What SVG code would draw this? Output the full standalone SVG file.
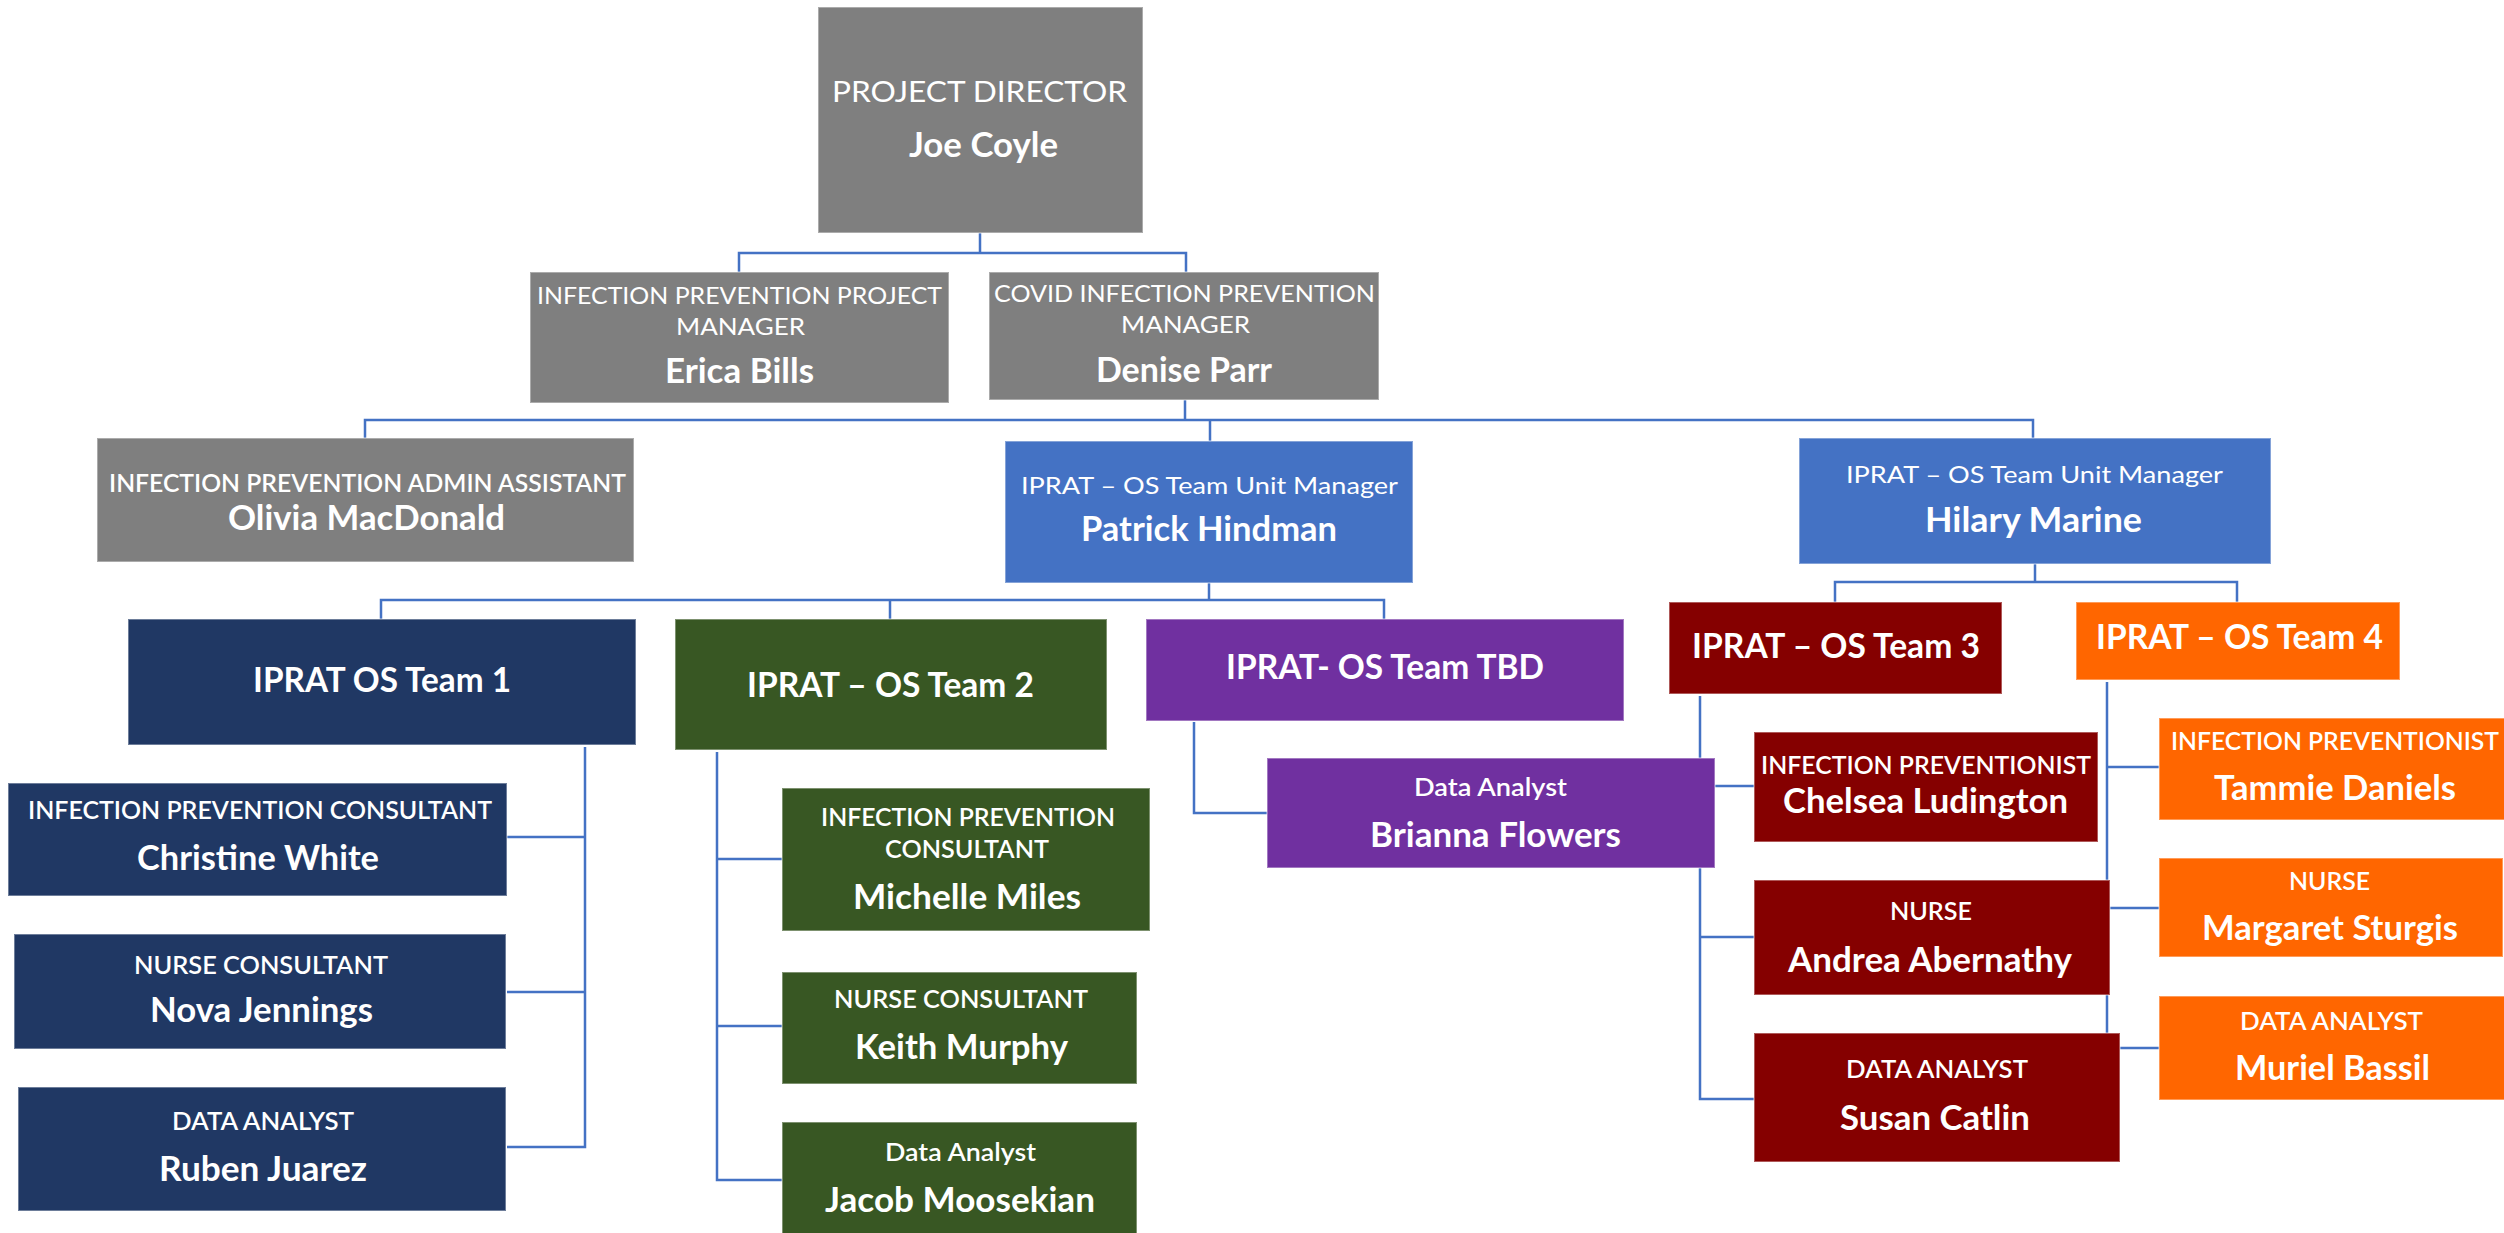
<svg xmlns="http://www.w3.org/2000/svg" width="2504" height="1233" viewBox="0 0 2504 1233">
<style>
.bx{stroke:#ffffff;stroke-opacity:0.35;stroke-width:2}
.gray{fill:#7F7F7F}.blue{fill:#4472C4}.navy{fill:#203864}.green{fill:#385723}.purple{fill:#7030A0}.red{fill:#850000}.orange{fill:#FF6600}
text{fill:#ffffff;font-family:Lato,"Liberation Sans",sans-serif;text-anchor:middle}
.t{font-size:24px;font-weight:600}
.tr{font-size:24px;font-weight:400}
.n{font-size:34px;font-weight:700}
.h{font-size:34px;font-weight:700}
.c{fill:none;stroke:#4472C4;stroke-width:2.5}
</style>
<rect width="2504" height="1233" fill="#ffffff"/>
<g id="connectors">
<path class="c" d="M980,233V253M739,272V253H1186V272"/>
<path class="c" d="M1185,400V420M365,438V420H2033V438M1210,420V441"/>
<path class="c" d="M1209,583V600M381,619V600H1384V619M890,600V619"/>
<path class="c" d="M2035,564V582M1835,602V582H2237V602"/>
<path class="c" d="M585,747V1147H507M585,837H507M585,992H507"/>
<path class="c" d="M717,752V1180H782M717,859H782M717,1026H782"/>
<path class="c" d="M1194,722V813H1267"/>
<path class="c" d="M1700,696V1099H1754M1700,786H1754M1700,937H1754"/>
<path class="c" d="M2107,682V1048H2159M2107,767H2159M2107,908H2159"/>
</g>
<g id="project-director"><rect class="bx gray" x="818" y="7" width="325" height="226"/>
<text class="tr" style="font-size:28px" x="979.5" y="102" textLength="295" lengthAdjust="spacingAndGlyphs">PROJECT DIRECTOR</text>
<text class="n" x="983.5" y="157" textLength="149" lengthAdjust="spacingAndGlyphs">Joe Coyle</text></g>
<g id="ip-project-manager"><rect class="bx gray" x="530" y="272" width="419" height="131"/>
<text class="tr" x="739.5" y="304" textLength="405" lengthAdjust="spacingAndGlyphs">INFECTION PREVENTION PROJECT</text>
<text class="tr" x="740.5" y="335" textLength="129" lengthAdjust="spacingAndGlyphs">MANAGER</text>
<text class="n" x="739.5" y="383" textLength="149" lengthAdjust="spacingAndGlyphs">Erica Bills</text></g>
<g id="covid-manager"><rect class="bx gray" x="989" y="272" width="390" height="128"/>
<text class="tr" x="1184.5" y="302" textLength="381" lengthAdjust="spacingAndGlyphs">COVID INFECTION PREVENTION</text>
<text class="tr" x="1185.5" y="333" textLength="129" lengthAdjust="spacingAndGlyphs">MANAGER</text>
<text class="n" x="1184" y="382" textLength="176" lengthAdjust="spacingAndGlyphs">Denise Parr</text></g>
<g id="admin-assistant"><rect class="bx gray" x="97" y="438" width="537" height="124"/>
<text class="t" style="font-size:25px" x="367.5" y="492" textLength="517" lengthAdjust="spacingAndGlyphs">INFECTION PREVENTION ADMIN ASSISTANT</text>
<text class="n" x="366.5" y="530" textLength="277" lengthAdjust="spacingAndGlyphs">Olivia MacDonald</text></g>
<g id="patrick"><rect class="bx blue" x="1005" y="441" width="408" height="142"/>
<text class="tr" x="1209.5" y="494" textLength="377" lengthAdjust="spacingAndGlyphs">IPRAT – OS Team Unit Manager</text>
<text class="n" x="1209" y="541" textLength="256" lengthAdjust="spacingAndGlyphs">Patrick Hindman</text></g>
<g id="hilary"><rect class="bx blue" x="1799" y="438" width="472" height="126"/>
<text class="tr" x="2034.5" y="483" textLength="377" lengthAdjust="spacingAndGlyphs">IPRAT – OS Team Unit Manager</text>
<text class="n" x="2033.5" y="532" textLength="217" lengthAdjust="spacingAndGlyphs">Hilary Marine</text></g>
<g id="team1"><rect class="bx navy" x="128" y="619" width="508" height="126"/>
<text class="h" x="382" y="692" textLength="258" lengthAdjust="spacingAndGlyphs">IPRAT OS Team 1</text></g>
<g id="team2"><rect class="bx green" x="675" y="619" width="432" height="131"/>
<text class="h" x="890.5" y="697" textLength="287" lengthAdjust="spacingAndGlyphs">IPRAT – OS Team 2</text></g>
<g id="team-tbd"><rect class="bx purple" x="1146" y="619" width="478" height="102"/>
<text class="h" x="1385" y="679" textLength="318" lengthAdjust="spacingAndGlyphs">IPRAT- OS Team TBD</text></g>
<g id="team3"><rect class="bx red" x="1669" y="602" width="333" height="92"/>
<text class="h" x="1836" y="658" textLength="288" lengthAdjust="spacingAndGlyphs">IPRAT – OS Team 3</text></g>
<g id="team4"><rect class="bx orange" x="2076" y="602" width="324" height="78"/>
<text class="h" x="2239.5" y="649" textLength="287" lengthAdjust="spacingAndGlyphs">IPRAT – OS Team 4</text></g>
<g id="christine"><rect class="bx navy" x="8" y="783" width="499" height="113"/>
<text class="t" x="260" y="819" textLength="464" lengthAdjust="spacingAndGlyphs">INFECTION PREVENTION CONSULTANT</text>
<text class="n" x="258" y="870" textLength="242" lengthAdjust="spacingAndGlyphs">Christine White</text></g>
<g id="nova"><rect class="bx navy" x="14" y="934" width="492" height="115"/>
<text class="t" x="261" y="974" textLength="254" lengthAdjust="spacingAndGlyphs">NURSE CONSULTANT</text>
<text class="n" x="261.5" y="1022" textLength="223" lengthAdjust="spacingAndGlyphs">Nova Jennings</text></g>
<g id="ruben"><rect class="bx navy" x="18" y="1087" width="488" height="124"/>
<text class="t" x="263" y="1130" textLength="182" lengthAdjust="spacingAndGlyphs">DATA ANALYST</text>
<text class="n" x="263" y="1181" textLength="208" lengthAdjust="spacingAndGlyphs">Ruben Juarez</text></g>
<g id="michelle"><rect class="bx green" x="782" y="788" width="368" height="143"/>
<text class="t" x="968" y="826" textLength="294" lengthAdjust="spacingAndGlyphs">INFECTION PREVENTION</text>
<text class="t" x="967" y="858" textLength="164" lengthAdjust="spacingAndGlyphs">CONSULTANT</text>
<text class="n" x="967" y="909" textLength="228" lengthAdjust="spacingAndGlyphs">Michelle Miles</text></g>
<g id="keith"><rect class="bx green" x="782" y="972" width="355" height="112"/>
<text class="t" x="961" y="1008" textLength="254" lengthAdjust="spacingAndGlyphs">NURSE CONSULTANT</text>
<text class="n" x="961.5" y="1059" textLength="213" lengthAdjust="spacingAndGlyphs">Keith Murphy</text></g>
<g id="jacob"><rect class="bx green" x="782" y="1122" width="355" height="115"/>
<text class="t" x="960.5" y="1161" textLength="151" lengthAdjust="spacingAndGlyphs">Data Analyst</text>
<text class="n" x="960" y="1212" textLength="270" lengthAdjust="spacingAndGlyphs">Jacob Moosekian</text></g>
<g id="brianna"><rect class="bx purple" x="1267" y="758" width="448" height="110"/>
<text class="t" x="1490.5" y="796" textLength="153" lengthAdjust="spacingAndGlyphs">Data Analyst</text>
<text class="n" x="1495.5" y="847" textLength="251" lengthAdjust="spacingAndGlyphs">Brianna Flowers</text></g>
<g id="chelsea"><rect class="bx red" x="1754" y="732" width="344" height="110"/>
<text class="t" x="1926" y="774" textLength="330" lengthAdjust="spacingAndGlyphs">INFECTION PREVENTIONIST</text>
<text class="n" x="1925.5" y="813" textLength="285" lengthAdjust="spacingAndGlyphs">Chelsea Ludington</text></g>
<g id="andrea"><rect class="bx red" x="1754" y="880" width="356" height="115"/>
<text class="t" x="1931" y="920" textLength="82" lengthAdjust="spacingAndGlyphs">NURSE</text>
<text class="n" x="1930" y="972" textLength="284" lengthAdjust="spacingAndGlyphs">Andrea Abernathy</text></g>
<g id="susan"><rect class="bx red" x="1754" y="1033" width="366" height="129"/>
<text class="t" x="1937" y="1078" textLength="182" lengthAdjust="spacingAndGlyphs">DATA ANALYST</text>
<text class="n" x="1935" y="1130" textLength="190" lengthAdjust="spacingAndGlyphs">Susan Catlin</text></g>
<g id="tammie"><rect class="bx orange" x="2159" y="718" width="347" height="102"/>
<text class="t" x="2335" y="750" textLength="328" lengthAdjust="spacingAndGlyphs">INFECTION PREVENTIONIST</text>
<text class="n" x="2335" y="800" textLength="242" lengthAdjust="spacingAndGlyphs">Tammie Daniels</text></g>
<g id="margaret"><rect class="bx orange" x="2159" y="858" width="344" height="99"/>
<text class="t" x="2329.5" y="890" textLength="81" lengthAdjust="spacingAndGlyphs">NURSE</text>
<text class="n" x="2330" y="940" textLength="256" lengthAdjust="spacingAndGlyphs">Margaret Sturgis</text></g>
<g id="muriel"><rect class="bx orange" x="2159" y="996" width="347" height="104"/>
<text class="t" x="2331.5" y="1030" textLength="183" lengthAdjust="spacingAndGlyphs">DATA ANALYST</text>
<text class="n" x="2332.5" y="1080" textLength="195" lengthAdjust="spacingAndGlyphs">Muriel Bassil</text></g>
</svg>
